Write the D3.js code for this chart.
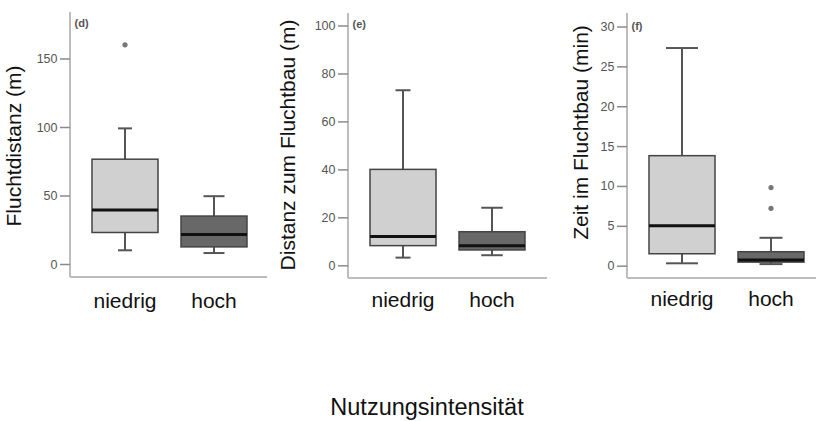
<!DOCTYPE html>
<html>
<head>
<meta charset="utf-8">
<script src="https://cdn.jsdelivr.net/npm/d3@7"></script>
<style>
  html, body { margin: 0; padding: 0; background: #fff; }
  svg { display: block; font-family: "Liberation Sans", Arial, Helvetica, sans-serif; }
</style>
</head>
<body>
<svg id="chart" width="816" height="421"></svg>
<script>
// Kategorien der Nutzungsintensität
const categories = ["niedrig", "hoch"];

// Boxplot-Kennwerte je Kategorie (niedrig, hoch)
const fluchtdistanz = [
  { min: 10, q1: 23, median: 39.5, q3: 76.5, max: 99, outliers: [160] },
  { min: 8, q1: 12.5, median: 21.5, q3: 35, max: 49.5, outliers: [] }
];
const distanzFluchtbau = [
  { min: 3.2, q1: 8.2, median: 12, q3: 40, max: 73, outliers: [] },
  { min: 4.2, q1: 6.4, median: 8.2, q3: 14, max: 24, outliers: [] }
];
const zeitFluchtbau = [
  { min: 0.3, q1: 1.5, median: 5, q3: 13.8, max: 27.3, outliers: [] },
  { min: 0.2, q1: 0.45, median: 0.7, q3: 1.75, max: 3.5, outliers: [7.2, 9.8] }
];

// Achsenbeschriftungen
const ticksD = [0, 50, 100, 150];
const ticksE = [0, 20, 40, 60, 80, 100];
const ticksF = [0, 5, 10, 15, 20, 25, 30];
const titleD = "Fluchtdistanz (m)";
const titleE = "Distanz zum Fluchtbau (m)";
const titleF = "Zeit im Fluchtbau (min)";
const panelTags = ["(d)", "(e)", "(f)"];
const xTitle = "Nutzungsintensität";

const svg = d3.select("#chart");
const fills = ["#d0d0d0", "#686868"];

const panels = [
  { tag: panelTags[0], stats: fluchtdistanz, ticks: ticksD, title: titleD,
    axisX: 70, top: 12, bottom: 277, right: 267, domain: [0, 150], range: [264, 58.5],
    titleX: 20.5, titleY: 146, tagY: 27, catY: 307.5, caps: [14, 21] },
  { tag: panelTags[1], stats: distanzFluchtbau, ticks: ticksE, title: titleE,
    axisX: 348, top: 13, bottom: 278, right: 547, domain: [0, 100], range: [265.3, 25.5],
    titleX: 294.5, titleY: 145, tagY: 27.5, catY: 306.5, caps: [15, 21.5] },
  { tag: panelTags[2], stats: zeitFluchtbau, ticks: ticksF, title: titleF,
    axisX: 627, top: 13, bottom: 278, right: 816, domain: [0, 30], range: [265.7, 26.5],
    titleX: 587.5, titleY: 132.5, tagY: 30, catY: 305.5, caps: [32, 23] }
];

panels.forEach(p => {
  const g = svg.append("g");
  const y = d3.scaleLinear().domain(p.domain).range(p.range);
  const x = d3.scalePoint().domain(categories).range([p.axisX + 55, p.axisX + 144]);
  const boxW = 66;

  // Achsenlinien
  g.append("line").attr("x1", p.axisX).attr("x2", p.axisX).attr("y1", p.top).attr("y2", p.bottom)
    .attr("stroke", "#bdbdbd").attr("stroke-width", 2);
  g.append("line").attr("x1", p.axisX).attr("x2", p.right).attr("y1", p.bottom).attr("y2", p.bottom)
    .attr("stroke", "#bdbdbd").attr("stroke-width", 2);

  // y-Achse
  const ax = g.append("g").attr("transform", `translate(${p.axisX},0)`)
    .call(d3.axisLeft(y).tickValues(p.ticks).tickSize(10).tickPadding(2.5));
  ax.select(".domain").remove();
  ax.selectAll(".tick line").attr("stroke", "#8a8a8a").attr("stroke-width", 1.5);
  ax.selectAll(".tick text").attr("fill", "#555").style("font-size", "12.5px")
    .style("font-family", "'Liberation Sans', Arial, sans-serif");

  // Panel-Kennung
  g.append("text").attr("x", p.axisX + 4.5).attr("y", p.tagY).text(p.tag)
    .attr("fill", "#555").style("font-size", "11px").style("font-weight", "bold");

  // Titel der y-Achse
  g.append("text").attr("transform", `translate(${p.titleX},${p.titleY}) rotate(-90)`)
    .attr("text-anchor", "middle").style("font-size", "21px").attr("fill", "#111").text(p.title);

  // Boxplots
  p.stats.forEach((s, i) => {
    const cx = x(categories[i]);
    const bg = g.append("g");
    const wc = "#555";
    // Whisker
    bg.append("line").attr("x1", cx).attr("x2", cx).attr("y1", y(s.q3)).attr("y2", y(s.max))
      .attr("stroke", wc).attr("stroke-width", 2);
    bg.append("line").attr("x1", cx).attr("x2", cx).attr("y1", y(s.q1)).attr("y2", y(s.min))
      .attr("stroke", wc).attr("stroke-width", 2);
    const cw = p.caps[i] / 2;
    bg.append("line").attr("x1", cx - cw).attr("x2", cx + cw).attr("y1", y(s.max)).attr("y2", y(s.max))
      .attr("stroke", wc).attr("stroke-width", 2);
    bg.append("line").attr("x1", cx - cw).attr("x2", cx + cw).attr("y1", y(s.min)).attr("y2", y(s.min))
      .attr("stroke", wc).attr("stroke-width", 2);
    // Box
    bg.append("rect").attr("x", cx - boxW / 2).attr("width", boxW)
      .attr("y", y(s.q3)).attr("height", y(s.q1) - y(s.q3))
      .attr("fill", fills[i]).attr("stroke", "#444").attr("stroke-width", 1.5);
    // Median
    bg.append("line").attr("x1", cx - boxW / 2).attr("x2", cx + boxW / 2)
      .attr("y1", y(s.median)).attr("y2", y(s.median))
      .attr("stroke", "#111").attr("stroke-width", 3);
    // Ausreißer
    bg.selectAll("circle").data(s.outliers).join("circle")
      .attr("cx", cx).attr("cy", d => y(d)).attr("r", 2.6).attr("fill", "#777");
  });

  // Kategorienbeschriftung
  g.selectAll("text.cat").data(categories).join("text").attr("class", "cat")
    .attr("x", d => x(d)).attr("y", p.catY).attr("text-anchor", "middle")
    .style("font-size", "21px").attr("fill", "#111").text(d => d);
});

// Gemeinsamer x-Achsentitel
svg.append("text").attr("x", 427).attr("y", 415).attr("text-anchor", "middle")
  .style("font-size", "23.5px").attr("fill", "#111").text(xTitle);
</script>
</body>
</html>
